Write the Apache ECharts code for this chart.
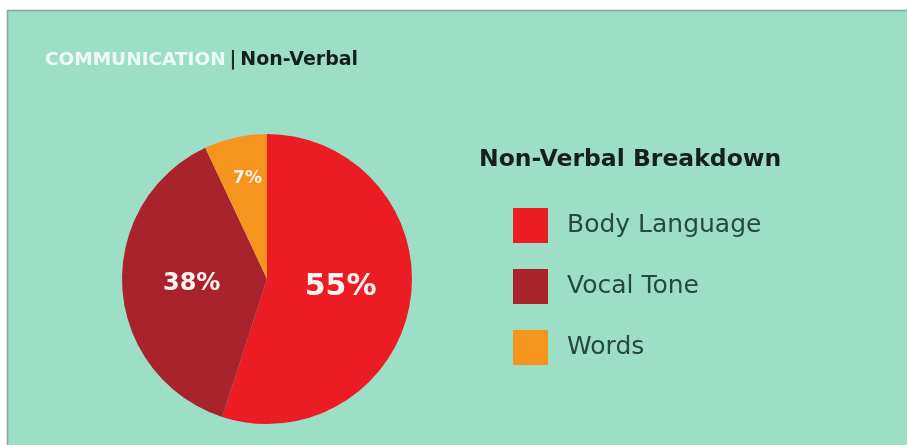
<!DOCTYPE html>
<html><head><meta charset="utf-8">
<script src="https://cdn.jsdelivr.net/npm/echarts@6/dist/echarts.min.js"></script>
<style>html,body{margin:0;padding:0;background:#fff;}#c{width:907px;height:445px;}</style>
</head><body><div id="c"></div>
<script>
const categories = ['Body Language', 'Vocal Tone', 'Words'];
const values = [55, 38, 7];
const colors = ['#ec1c24', '#a8232b', '#f7941d'];
const labelSizes = [30, 24, 17];

const F = '"DejaVu Sans", Verdana, sans-serif';
const chart = echarts.init(document.getElementById('c'));
chart.setOption({
  backgroundColor: '#ffffff',
  animation: false,
  graphic: [
    { type: 'rect', z: -10, shape: { x: 7.5, y: 10.5, width: 905, height: 440 },
      style: { fill: '#9ddfc6', stroke: '#8aa59a', lineWidth: 1.5 } },
    { type: 'text', left: 45, top: 51,
      style: { text: '{a|COMMUNICATION}{s| }{b||}{s| }{c|Non-Verbal}',
        rich: {
          a: { fill: '#eefaf5', fontFamily: F, fontWeight: 'bold', fontSize: 18.5 },
          s: { fontFamily: F, fontSize: 12 },
          b: { fill: '#1d2b25', fontFamily: F, fontWeight: 'bold', fontSize: 19 },
          c: { fill: '#13201b', fontFamily: F, fontWeight: 'bold', fontSize: 19 }
        } } }
  ],
  legend: {
    orient: 'vertical', left: 513, top: 208, padding: 0,
    itemWidth: 35, itemHeight: 35, itemGap: 26,
    icon: 'rect',
    textStyle: { color: '#264a41', fontSize: 25, fontFamily: F, padding: [0, 0, 0, 14] },
    data: categories
  },
  title: {
    text: 'Non-Verbal Breakdown', left: 474, top: 143,
    textStyle: { color: '#14201c', fontSize: 23.5, fontWeight: 'bold', fontFamily: F }
  },
  series: [{
    type: 'pie',
    center: [267, 279],
    radius: [0, 145],
    startAngle: 90,
    clockwise: true,
    label: {
      show: true, position: 'inside',
      formatter: p => p.value + '%',
      color: '#fbf3ef', fontWeight: 'bold', fontFamily: F
    },
    labelLayout: function (p) {
      if (p.dataIndex === 2) return { dx: -3, dy: -27 };
      if (p.dataIndex === 0) return { dx: -1, dy: -4 };
      return {};
    },
    itemStyle: { borderWidth: 0 },
    emphasis: { disabled: true },
    data: categories.map((n, i) => ({
      name: n, value: values[i],
      itemStyle: { color: colors[i] },
      label: { fontSize: labelSizes[i] }
    }))
  }]
});
</script></body></html>
